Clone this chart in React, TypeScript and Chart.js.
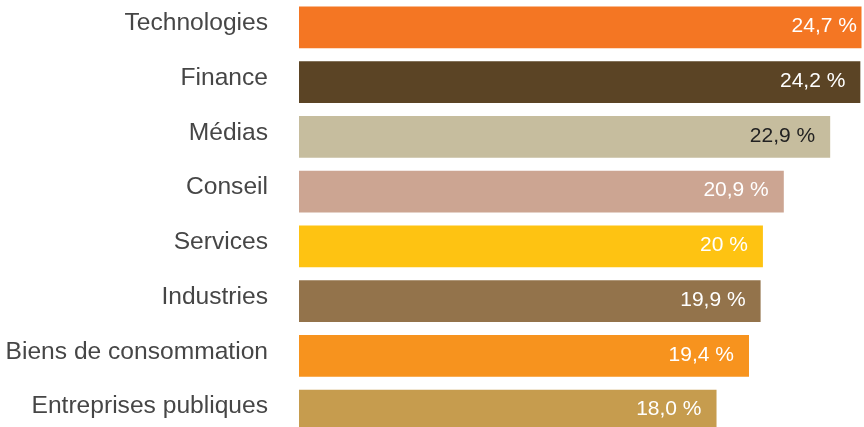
import React, { useEffect, useRef } from "react";
import { Chart, registerables } from "chart.js";

Chart.register(...registerables);

const categories = [
  "Technologies",
  "Finance",
  "Médias",
  "Conseil",
  "Services",
  "Industries",
  "Biens de consommation",
  "Entreprises publiques",
];
const values = [24.7, 24.2, 22.9, 20.9, 20, 19.9, 19.4, 18.0];
const valueLabels = ["24,7 %", "24,2 %", "22,9 %", "20,9 %", "20 %", "19,9 %", "19,4 %", "18,0 %"];
const barColors = [
  "#F47623",
  "#5B4425",
  "#C6BD9E",
  "#CCA592",
  "#FEC312",
  "#93734B",
  "#F7931E",
  "#C69C4E",
];
const labelColors = ["#ffffff", "#ffffff", "#222222", "#ffffff", "#ffffff", "#ffffff", "#ffffff", "#ffffff"];

const FONT = "'Liberation Sans', Arial, Helvetica, sans-serif";

const valueLabelPlugin = {
  id: "valueLabels",
  afterDatasetsDraw(chart: any) {
    const ctx = chart.ctx;
    const meta = chart.getDatasetMeta(0);
    ctx.save();
    ctx.font = `21px ${FONT}`;
    ctx.textAlign = "right";
    ctx.textBaseline = "middle";
    meta.data.forEach((bar: any, i: number) => {
      ctx.fillStyle = labelColors[i];
      ctx.fillText(valueLabels[i], bar.x - 15, bar.y - 1);
    });
    ctx.restore();
  },
};

export default function App() {
  const ref = useRef<HTMLCanvasElement | null>(null);

  useEffect(() => {
    document.body.style.margin = "0";
    const canvas = ref.current;
    if (!canvas) return;
    const chart = new Chart(canvas, {
      type: "bar",
      data: {
        labels: categories,
        datasets: [
          {
            data: values,
            backgroundColor: barColors,
            borderWidth: 0,
            barPercentage: 1,
            categoryPercentage: 0.76,
            clip: 0,
          } as any,
        ],
      },
      options: {
        indexAxis: "y",
        animation: false,
        responsive: false,
        devicePixelRatio: 1,
        layout: { padding: { left: 0, right: 2.5, top: 0, bottom: 0 } },
        plugins: {
          legend: { display: false },
          tooltip: { enabled: false },
        },
        scales: {
          x: {
            display: false,
            min: 0,
            max: 24.25,
          },
          y: {
            offset: true,
            grid: { display: false, drawTicks: false },
            border: { display: false },
            ticks: {
              color: "#464646",
              font: { family: FONT, size: 24.6 },
              padding: 31,
              labelOffset: -4,
            },
            afterFit(scale: any) {
              scale.width = 299;
              scale.paddingTop = 0;
              scale.paddingBottom = 0;
            },
          },
        },
      },
      plugins: [valueLabelPlugin],
    });
    return () => chart.destroy();
  }, []);

  return (
    <div
      style={{
        position: "absolute",
        left: 0,
        top: 0,
        width: 864,
        height: 427,
        overflow: "hidden",
        background: "#ffffff",
      }}
    >
      <canvas ref={ref} width={864} height={438} style={{ display: "block" }} />
    </div>
  );
}
